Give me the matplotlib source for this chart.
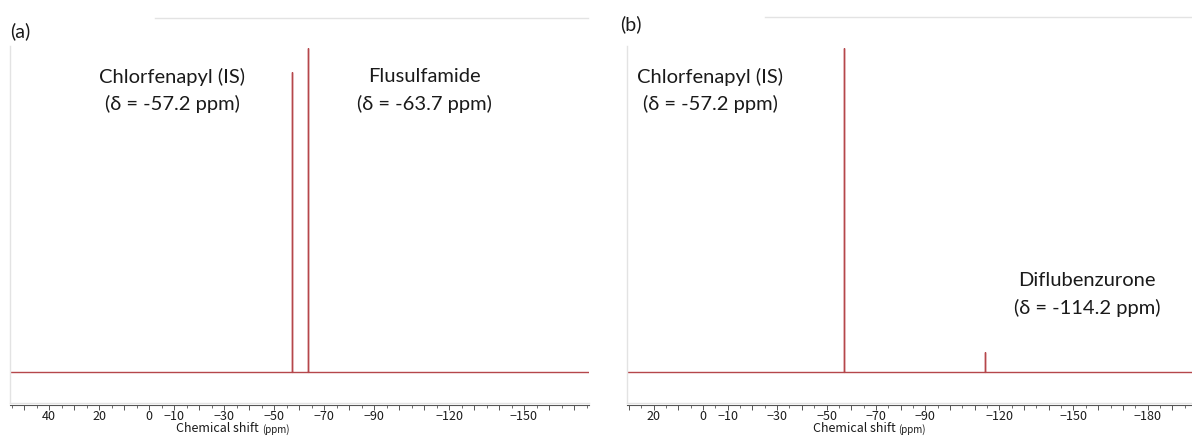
import matplotlib
matplotlib.use("Agg")
import matplotlib.pyplot as plt
from matplotlib.ticker import MultipleLocator, FixedLocator, FixedFormatter

# ---- data ----
peaks_a_ppm = [-57.2, -63.7]
peaks_a_height = [0.926, 1.0]
peaks_b_ppm = [-57.2, -114.2]
peaks_b_height = [1.0, 0.062]

xlim_a = (55.6, -176.0)
xlim_b = (30.8, -198.0)

ticklabels_a = [40, 20, 0, -10, -30, -50, -70, -90, -120, -150]
ticklabels_b = [20, 0, -10, -30, -50, -70, -90, -120, -150, -180]

labels_a = [("Chlorfenapyl (IS)", "(δ = -57.2 ppm)"), ("Flusulfamide", "(δ = -63.7 ppm)")]
labels_b = [("Chlorfenapyl (IS)", "(δ = -57.2 ppm)"), ("Diflubenzurone", "(δ = -114.2 ppm)")]

W, H = 1192, 437
fig = plt.figure(figsize=(W / 100, H / 100), dpi=100)
fig.patch.set_facecolor("white")

LINE = "#b5474b"
GRAY = "#e3e3e3"
TXT = "#1a1a1a"
tick_font = "Noto Sans CJK JP"
ann_font = ["Lato", "DejaVu Sans"]


def px_rect(x0, y_top, x1, y_bot):
    return [x0 / W, 1 - y_bot / H, (x1 - x0) / W, (y_bot - y_top) / H]


def make_panel(x0, x1, xlim, ppm, heights, ticklabels, xlabel_cx):
    top, bot, base = 46, 403, 372
    ax = fig.add_axes(px_rect(x0, top, x1, bot))
    scale = base - 48
    ax.set_xlim(*xlim)
    ax.set_ylim(-(bot - base) / scale, (base - top) / scale)
    order = sorted(range(len(ppm)), key=lambda i: -ppm[i])
    xs = [xlim[0]]
    ys = [0.0]
    for i in order:
        xs += [ppm[i], ppm[i], ppm[i]]
        ys += [0.0, heights[i], 0.0]
    xs.append(xlim[1])
    ys.append(0.0)
    ax.plot(xs, ys, color=LINE, lw=1.0, solid_joinstyle="miter")
    for s in ["top", "right"]:
        ax.spines[s].set_visible(False)
    ax.spines["left"].set_color(GRAY)
    ax.spines["bottom"].set_color(GRAY)
    ax.spines["left"].set_linewidth(1.0)
    ax.spines["bottom"].set_linewidth(1.0)
    ax.set_xticks([])
    ax.set_yticks([])

    tx = fig.add_axes(px_rect(x0, 404, x1, 405))
    tx.set_xlim(*xlim)
    for s in ["top", "right", "left"]:
        tx.spines[s].set_visible(False)
    tx.spines["bottom"].set_color("#555555")
    tx.spines["bottom"].set_linewidth(0.8)
    tx.set_yticks([])
    lo, hi = min(xlim), max(xlim)
    majors = [v for v in range(-300, 300, 10) if lo <= v <= hi]
    tx.xaxis.set_major_locator(FixedLocator(majors))
    tx.xaxis.set_major_formatter(FixedFormatter(
        [("−" + str(-v) if v < 0 else str(v)) if v in ticklabels else "" for v in majors]))
    tx.xaxis.set_minor_locator(MultipleLocator(5))
    tx.tick_params(axis="x", which="major", length=3.5, width=0.7, color="#555555",
                   labelsize=9, pad=0, labelcolor=TXT)
    tx.tick_params(axis="x", which="minor", length=2, width=0.6, color="#555555")
    for lab in tx.get_xticklabels():
        lab.set_fontfamily(tick_font)
    fig.text(xlabel_cx / W, 1 - 429 / H, "Chemical shift ", ha="right", va="center",
             fontsize=9, family=tick_font, color=TXT)
    fig.text(xlabel_cx / W, 1 - 430 / H, "(ppm)", ha="left", va="center",
             fontsize=7, family=tick_font, color=TXT)
    return ax


make_panel(10, 589, xlim_a, peaks_a_ppm, peaks_a_height, ticklabels_a, 262)
make_panel(627, 1192, xlim_b, peaks_b_ppm, peaks_b_height, ticklabels_b, 898)

fig.add_artist(plt.Line2D([155 / W, 588 / W], [1 - 18 / H] * 2, color=GRAY, lw=1.0))
fig.add_artist(plt.Line2D([765 / W, 1192 / W], [1 - 17 / H] * 2, color=GRAY, lw=1.0))

fig.text(10 / W, 1 - 31 / H, "(a)", fontsize=14, family=ann_font, color=TXT, va="center")
fig.text(620 / W, 1 - 24 / H, "(b)", fontsize=14, family=ann_font, color=TXT, va="center")


def annotate(cx, y1, lines):
    name, delta = lines
    fig.text(cx / W, 1 - y1 / H, name, ha="center", va="center", fontsize=14.5,
             family=ann_font, color=TXT)
    fig.text(cx / W, 1 - (y1 + 27) / H, delta, ha="center", va="center", fontsize=14.5,
             family=ann_font, color=TXT)


annotate(172, 77, labels_a[0])
annotate(424, 77, labels_a[1])
annotate(710, 77, labels_b[0])
annotate(1087, 281, labels_b[1])

fig.savefig("out.png", dpi=100, facecolor="white")
